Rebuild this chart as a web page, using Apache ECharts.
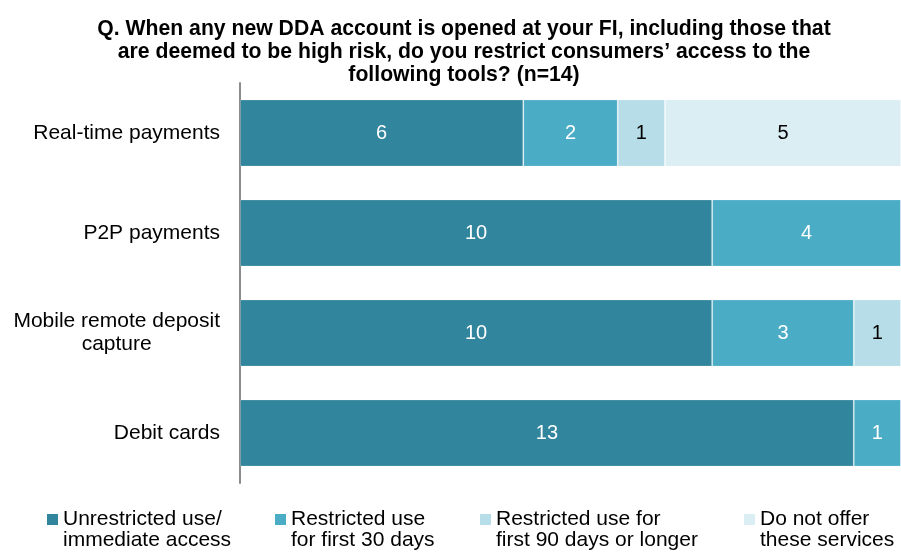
<!DOCTYPE html>
<html>
<head>
<meta charset="utf-8">
<title>Restrictions on new DDA accounts</title>
<script src="https://cdn.jsdelivr.net/npm/echarts@6/dist/echarts.min.js"></script>
<style>
  html, body { margin: 0; padding: 0; background: #ffffff; }
  #chart { width: 901px; height: 552px; }
</style>
</head>
<body>
<div id="chart"></div>
<script>
// Survey tools, top to bottom
const categories = ['Real-time payments', 'P2P payments', 'Mobile remote deposit\ncapture', 'Debit cards'];

// Number of FIs per response, in the same order as categories
const unrestricted = [6, 10, 10, 13];
const restricted30 = [2, 4, 3, 1];
const restricted90 = [1, 0, 1, 0];
const notOffered   = [5, 0, 0, 0];

const seriesNames = ['Unrestricted use/ immediate access', 'Restricted use for first 30 days', 'Restricted use for first 90 days or longer', 'Do not offer these services'];
const legendLabels = ['Unrestricted use/\nimmediate access', 'Restricted use\nfor first 30 days', 'Restricted use for\nfirst 90 days or longer', 'Do not offer\nthese services'];

const totalResponses = 14;

const colors = ['#31859c', '#4bacc6', '#b7dee8', '#daeef3'];
const labelColors = ['#ffffff', '#ffffff', '#000000', '#000000'];
const seriesData = [unrestricted, restricted30, restricted90, notOffered];
const legendX = [47, 275, 480, 744];

const FONT = 'Liberation Sans, Arial, sans-serif';

const chart = echarts.init(document.getElementById('chart'), null, { renderer: 'canvas' });

const series = seriesData.map((values, i) => ({
  name: seriesNames[i],
  type: 'bar',
  stack: 'total',
  barCategoryGap: '33%',
  data: values,
  itemStyle: { color: colors[i], borderColor: 'rgba(255,255,255,0.18)', borderWidth: 1 },
  label: {
    show: true,
    position: 'inside',
    color: labelColors[i],
    fontFamily: FONT,
    fontSize: 20,
    formatter: p => (p.value > 0 ? String(p.value) : '')
  },
  emphasis: { disabled: true },
  animation: false
}));

// A blank leading line keeps the swatch level with the first text line
const legends = seriesNames.map((name, i) => ({
  data: [name],
  left: legendX[i],
  top: 488,
  padding: 0,
  itemWidth: 11,
  itemHeight: 11,
  icon: 'rect',
  itemStyle: { borderWidth: 0 },
  selectedMode: false,
  formatter: () => '\n' + legendLabels[i],
  textStyle: {
    fontFamily: FONT,
    fontSize: 21,
    color: '#000000',
    lineHeight: 21
  }
}));

chart.setOption({
  animation: false,
  title: {
    text: 'Q. When any new DDA account is opened at your FI, including those that\nare deemed to be high risk, do you restrict consumers\u2019 access to the\nfollowing tools? (n=' + totalResponses + ')',
    left: 464,
    top: 18,
    padding: 0,
    textAlign: 'center',
    textStyle: {
      fontFamily: FONT,
      fontSize: 21.2,
      fontWeight: 'bold',
      color: '#000000',
      lineHeight: 23
    }
  },
  legend: legends,
  grid: { left: 240, right: -8, top: 83, bottom: 69, containLabel: false },
  xAxis: {
    type: 'value',
    min: 0,
    max: totalResponses,
    show: false
  },
  yAxis: {
    type: 'category',
    inverse: true,
    data: categories,
    axisLine: { show: true, lineStyle: { color: '#8c8c8c', width: 2 } },
    axisTick: { show: false },
    axisLabel: {
      margin: 20,
      fontFamily: FONT,
      fontSize: 21,
      color: '#000000',
      lineHeight: 23,
      formatter: v => v.split('\n').map(line => '{c|' + line + '}').join('\n'),
      rich: {
        c: { align: 'center', fontFamily: FONT, fontSize: 21, lineHeight: 23, color: '#000000' }
      }
    },
    splitLine: { show: false }
  },
  series: series
});
</script>
</body>
</html>
